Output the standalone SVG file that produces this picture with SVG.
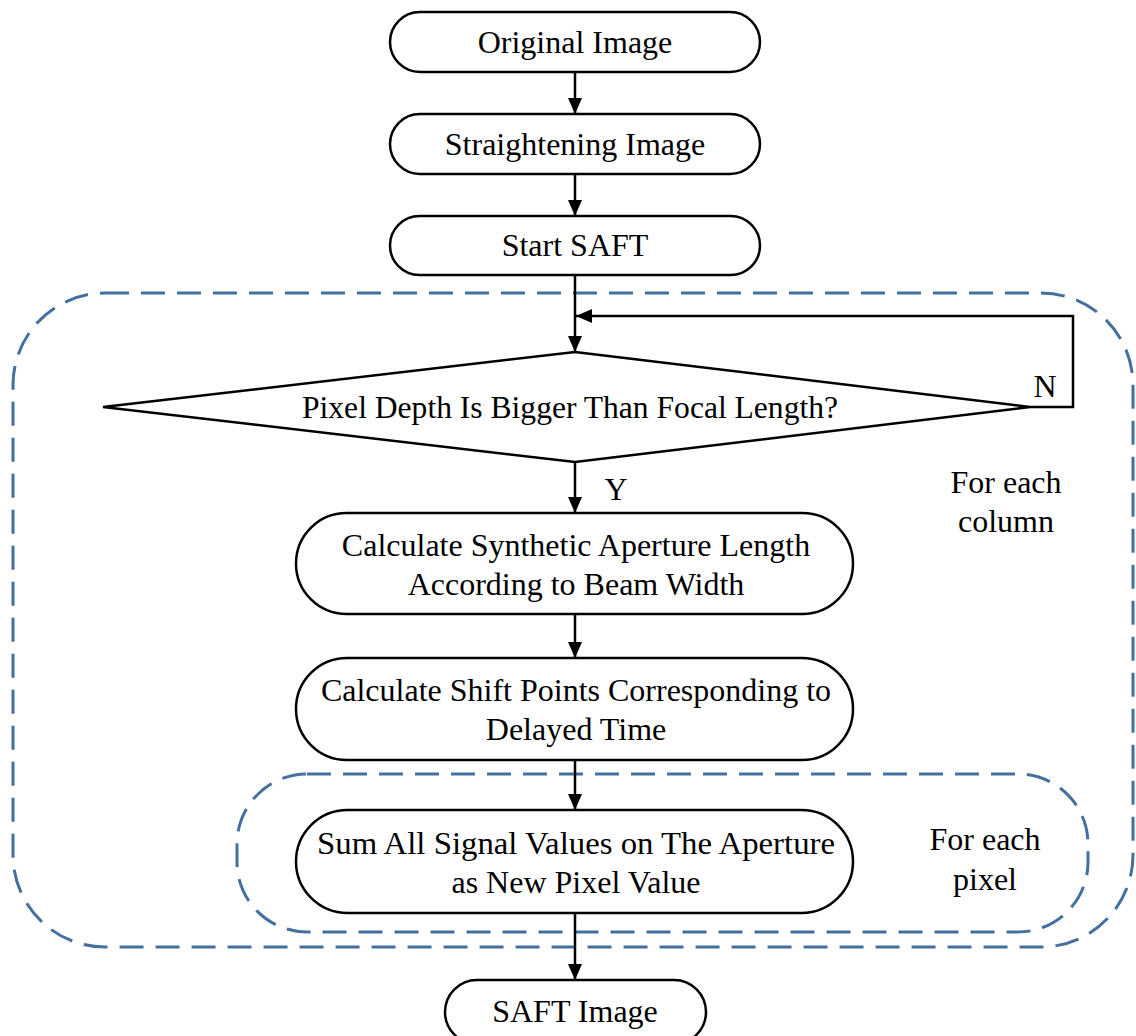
<svg xmlns="http://www.w3.org/2000/svg" width="1136" height="1036" viewBox="0 0 1136 1036">
<style>
.n{fill:#fff;stroke:#000;stroke-width:2.5}
.t{font-family:"Liberation Serif",serif;font-size:32px;fill:#000;text-anchor:middle}
.c{fill:none;stroke:#000;stroke-width:2.5}
.d{fill:none;stroke:#44709e;stroke-width:3;stroke-dasharray:24 12}
</style>
<defs>
<marker id="ah" markerWidth="16" markerHeight="20" refX="16" refY="10" orient="auto" markerUnits="userSpaceOnUse" viewBox="0 0 16 20">
<path d="M0,3 L16,10 L0,17 Z" fill="#000"/>
</marker>
</defs>
<rect class="d" x="13" y="293" width="1120" height="654" rx="92"/>
<rect class="d" x="237" y="774" width="851" height="158" rx="70"/>
<g id="connectors">
<path class="c" d="M575,72 V114" marker-end="url(#ah)"/>
<path class="c" d="M575,174 V216" marker-end="url(#ah)"/>
<path class="c" d="M575,275 V352" marker-end="url(#ah)"/>
<path class="c" d="M1030,407 H1073 V316 H576" marker-end="url(#ah)"/>
<path class="c" d="M575,462 V513" marker-end="url(#ah)"/>
<path class="c" d="M575,614 V658" marker-end="url(#ah)"/>
<path class="c" d="M575,760 V810" marker-end="url(#ah)"/>
<path class="c" d="M575,913 V980" marker-end="url(#ah)"/>
<text class="t" x="616" y="500">Y</text>
<text class="t" x="1045" y="397">N</text>
</g>
<g id="n1"><rect class="n" x="390" y="12" width="370" height="60" rx="30"/><text class="t" x="575" y="53">Original Image</text></g>
<g id="n2"><rect class="n" x="390" y="114" width="370" height="60" rx="30"/><text class="t" x="575" y="155">Straightening Image</text></g>
<g id="n3"><rect class="n" x="390" y="216" width="370" height="59" rx="29.5"/><text class="t" x="575" y="256">Start SAFT</text></g>
<g id="n4"><path class="n" d="M575,352 L1030,407 L575,462 L103,407 Z"/><text class="t" x="570" y="418" textLength="536" lengthAdjust="spacingAndGlyphs">Pixel Depth Is Bigger Than Focal Length?</text></g>
<g id="n5"><rect class="n" x="296" y="513" width="557" height="101" rx="50.5"/><text class="t" x="576" y="556">Calculate Synthetic Aperture Length</text><text class="t" x="576" y="595">According to Beam Width</text></g>
<g id="n6"><rect class="n" x="296" y="658" width="557" height="102" rx="51"/><text class="t" x="576" y="701">Calculate Shift Points Corresponding to</text><text class="t" x="576" y="740">Delayed Time</text></g>
<g id="n7"><rect class="n" x="296" y="810" width="557" height="103" rx="51.5"/><text class="t" x="576" y="854" textLength="518" lengthAdjust="spacingAndGlyphs">Sum All Signal Values on The Aperture</text><text class="t" x="576" y="893">as New Pixel Value</text></g>
<g id="n8"><rect class="n" x="445" y="980" width="261" height="64" rx="32"/><text class="t" x="575" y="1022">SAFT Image</text></g>
<g id="lbl1"><text class="t" x="1006" y="493">For each</text><text class="t" x="1006" y="532">column</text></g>
<g id="lbl2"><text class="t" x="985" y="850">For each</text><text class="t" x="985" y="890">pixel</text></g>
</svg>
